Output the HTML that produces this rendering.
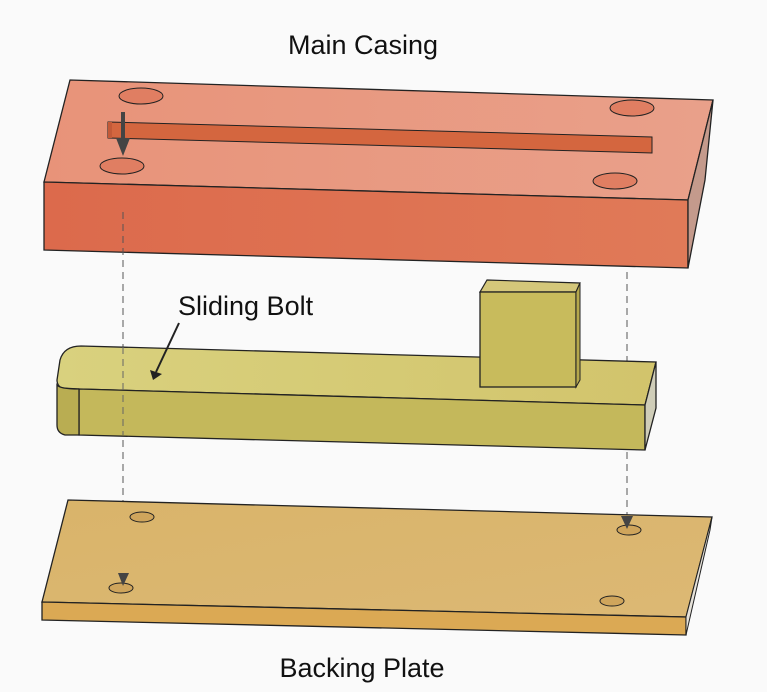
<!DOCTYPE html>
<html><head><meta charset="utf-8"><style>
html,body{margin:0;padding:0;background:#fafafa;}
svg{display:block}
text{font-family:"Liberation Sans",sans-serif;fill:#111}
</style></head><body>
<svg width="767" height="692" viewBox="0 0 767 692" xmlns="http://www.w3.org/2000/svg">
<defs>
<linearGradient id="ct" x1="0" y1="0" x2="1" y2="0"><stop offset="0" stop-color="#e89379"/><stop offset="1" stop-color="#e9a08a"/></linearGradient>
<linearGradient id="cf" x1="0" y1="0" x2="1" y2="0"><stop offset="0" stop-color="#dc6a4c"/><stop offset="1" stop-color="#e07a58"/></linearGradient>
<linearGradient id="bt" x1="0" y1="0" x2="1" y2="0"><stop offset="0" stop-color="#d9d17e"/><stop offset="1" stop-color="#d2c46c"/></linearGradient>
<linearGradient id="pt" x1="0" y1="0" x2="1" y2="1"><stop offset="0" stop-color="#d9b46a"/><stop offset="1" stop-color="#dcb874"/></linearGradient>
</defs>
<text x="363" y="54" font-size="27" text-anchor="middle">Main Casing</text>
<!-- casing -->
<polygon points="70,80 713,100 688,200 44,182" fill="url(#ct)" stroke="#222" stroke-width="1.3"/>
<polygon points="44,182 688,200 688,268 44,250" fill="url(#cf)" stroke="#222" stroke-width="1.3"/>
<polygon points="713,100 688,200 688,268 705,180" fill="#c49a8c" stroke="#222" stroke-width="1.3"/>
<polygon points="108,122 652,137 652,153 108,138" fill="#d4663f" stroke="#222" stroke-width="1"/>
<polygon points="108,122 112,122 112,138 108,138" fill="#c35a38"/>
<ellipse cx="141" cy="96" rx="22" ry="8" fill="#e07e62" stroke="#222" stroke-width="1"/>
<ellipse cx="632" cy="108" rx="22" ry="8" fill="#e07e62" stroke="#222" stroke-width="1"/>
<ellipse cx="122" cy="166" rx="22" ry="8" fill="#e07e62" stroke="#222" stroke-width="1"/>
<ellipse cx="615" cy="181" rx="22" ry="8" fill="#e07e62" stroke="#222" stroke-width="1"/>
<line x1="123" y1="112" x2="123" y2="140" stroke="#444" stroke-width="4"/>
<polygon points="116,138 130,138 123,156" fill="#444"/>
<!-- dashed lines -->
<line x1="123" y1="212" x2="123" y2="575" stroke="#555" stroke-width="1" stroke-dasharray="7,5"/>
<line x1="627" y1="272" x2="627" y2="517" stroke="#555" stroke-width="1" stroke-dasharray="7,5"/>
<text x="178" y="315" font-size="27">Sliding Bolt</text>
<!-- bolt -->
<path d="M81,346 L656,362 L645,405 L79,389 L62,388 Q57,386 57,380 L60,360 Q64,346 81,346 Z" fill="url(#bt)" stroke="#222" stroke-width="1.3"/>
<path d="M79,389 L645,405 L645,450 L79,435 Z" fill="#c4b85b" stroke="#222" stroke-width="1.3"/>
<path d="M57,385 Q60,389 79,389 L79,435 L65,435 Q57,433 57,425 Z" fill="#b9ad52" stroke="#222" stroke-width="1.3"/>
<polygon points="656,362 656,408 645,450 645,405" fill="#cfcdb8" stroke="#222" stroke-width="1.3"/>
<polygon points="487,280 580,283 576,292 480,292" fill="#d4c77a" stroke="#222" stroke-width="1.2"/>
<rect x="480" y="292" width="96" height="95" fill="#c8bb5c" stroke="#222" stroke-width="1.3"/>
<polygon points="576,292 580,283 580,380 576,387" fill="#b5a84c" stroke="#222" stroke-width="1"/>
<line x1="123" y1="347" x2="123" y2="435" stroke="#666" stroke-width="1" stroke-dasharray="7,5"/>
<line x1="179" y1="323" x2="156" y2="372" stroke="#222" stroke-width="2"/>
<polygon points="150,370 162,374 153,380" fill="#222"/>
<!-- backing plate -->
<polygon points="68,500 712,517 686,617 42,602" fill="url(#pt)" stroke="#222" stroke-width="1.3"/>
<polygon points="42,602 686,617 686,635 42,620" fill="#dba954" stroke="#222" stroke-width="1.3"/>
<polygon points="712,517 686,617 686,635 710,530" fill="#e6e2da" stroke="#222" stroke-width="1"/>
<ellipse cx="142" cy="517" rx="12" ry="5" fill="#cfa55c" stroke="#222" stroke-width="1"/>
<ellipse cx="629" cy="530" rx="12" ry="5" fill="#cfa55c" stroke="#222" stroke-width="1"/>
<ellipse cx="121" cy="588" rx="12" ry="5" fill="#cfa55c" stroke="#222" stroke-width="1"/>
<ellipse cx="612" cy="601" rx="12" ry="5" fill="#cfa55c" stroke="#222" stroke-width="1"/>
<polygon points="118,573 129,573 123,586" fill="#444"/>
<polygon points="621,516 633,516 627,529" fill="#444"/>
<text x="362" y="677" font-size="27" text-anchor="middle">Backing Plate</text>
</svg>
</body></html>
